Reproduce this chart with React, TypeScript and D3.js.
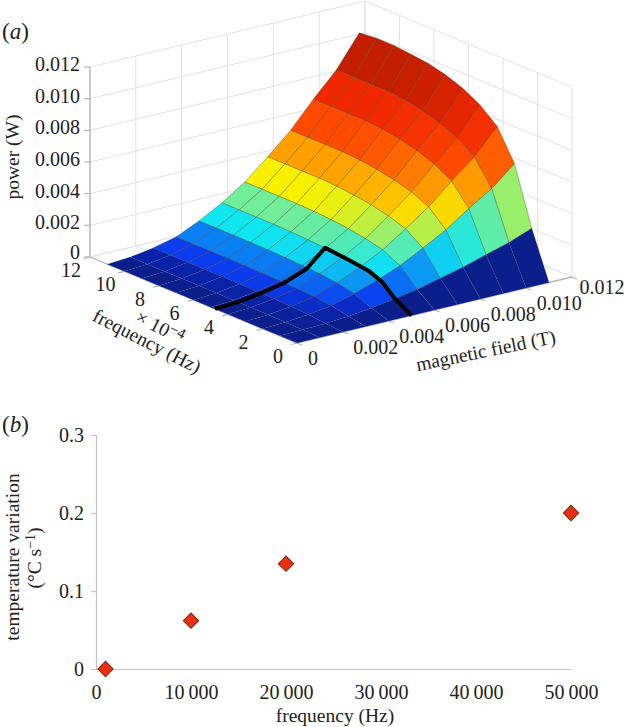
import React, { useEffect, useRef } from "react";
import * as d3 from "d3";

// panel (a) surface: rows are field values, columns are frequency values
const surfaceFreq = [0, 1e-4, 2e-4, 3e-4, 4e-4, 5e-4, 6e-4, 7e-4, 8e-4, 9e-4, 10e-4, 11e-4];
const surfaceField = [0, 0.001, 0.002, 0.003, 0.004, 0.005, 0.006, 0.007, 0.008, 0.009, 0.01, 0.011];
const surfacePower = [
    [0, 0, 0, 0, 0, 0, 0, 0, 0, 0, 0, 0],
    [0, 0.00003, 0.00006, 0.00008, 0.00009, 0.00009, 0.0001, 0.0001, 0.0001, 0.0001, 0.0001, 0.0001],
    [0, 0.00009, 0.0002, 0.00026, 0.00029, 0.00031, 0.00032, 0.00033, 0.00033, 0.00033, 0.00033, 0.00033],
    [0, 0.00019, 0.00041, 0.00053, 0.00059, 0.00063, 0.00065, 0.00067, 0.00068, 0.00068, 0.00068, 0.00068],
    [0, 0.00037, 0.00082, 0.00105, 0.00117, 0.00124, 0.00129, 0.00132, 0.00134, 0.00134, 0.00134, 0.00134],
    [0, 0.00059, 0.00131, 0.00168, 0.00186, 0.00198, 0.00206, 0.00211, 0.00214, 0.00214, 0.00214, 0.00214],
    [0, 0.00085, 0.00189, 0.00244, 0.0027, 0.00287, 0.00299, 0.00306, 0.0031, 0.0031, 0.0031, 0.0031],
    [0, 0.0012, 0.00265, 0.00342, 0.00378, 0.00403, 0.00419, 0.0043, 0.00435, 0.00435, 0.00435, 0.00435],
    [0, 0.00156, 0.00346, 0.00446, 0.00494, 0.00526, 0.00547, 0.00561, 0.00568, 0.00568, 0.00568, 0.00568],
    [0, 0.002, 0.00445, 0.00574, 0.00635, 0.00676, 0.00703, 0.00721, 0.0073, 0.0073, 0.0073, 0.0073],
    [0, 0.00242, 0.00537, 0.00692, 0.00766, 0.00815, 0.00847, 0.00869, 0.0088, 0.0088, 0.0088, 0.0088],
    [0, 0.00297, 0.0066, 0.00849, 0.0094, 0.01, 0.0104, 0.01067, 0.0108, 0.0109, 0.0109, 0.0108],
];

// black curve on the surface
const curveFreq = [4.75e-4, 4.75e-4, 4.75e-4, 4.75e-4, 4.75e-4, 4.75e-4, 3.5e-4, 2.5e-4, 1.7e-4, 1e-4, 0];
const curveField = [0, 0.001, 0.002, 0.003, 0.004, 0.0048, 0.0049, 0.005, 0.005, 0.005, 0.005];
const curvePower = [0, 0.00009, 0.0003, 0.0006, 0.00115, 0.0022, 0.00195, 0.0017, 0.00135, 0.00065, 0];

const freqTicks = [0, 2e-4, 4e-4, 6e-4, 8e-4, 10e-4, 12e-4];
const freqTickLabels = ["0", "2", "4", "6", "8", "10", "12"];
const fieldTicks = [0, 0.002, 0.004, 0.006, 0.008, 0.01, 0.012];
const fieldTickLabels = ["0", "0.002", "0.004", "0.006", "0.008", "0.010", "0.012"];
const powerTicks = [0, 0.002, 0.004, 0.006, 0.008, 0.01, 0.012];
const powerTickLabels = ["0", "0.002", "0.004", "0.006", "0.008", "0.010", "0.012"];

const colorStops = [0, 0.0001, 0.00033, 0.00068, 0.00134, 0.00214, 0.0031, 0.00435, 0.00568, 0.0073, 0.0088];
const colorValues = ["#0a1f8c", "#0a22a8", "#0a3cf0", "#0a80f5", "#10e6f0", "#70ee98", "#f8f000", "#ffa000", "#ff4a00", "#f02800", "#c41e00"];

// panel (b)
const pointFreq = [1000, 10000, 20000, 50000];
const pointTemp = [0, 0.062, 0.135, 0.2];
const xTicksB = [0, 10000, 20000, 30000, 40000, 50000];
const xTickLabelsB = ["0", "10\u2009000", "20\u2009000", "30\u2009000", "40\u2009000", "50\u2009000"];
const yTicksB = [0, 0.1, 0.2, 0.3];
const yTickLabelsB = ["0", "0.1", "0.2", "0.3"];

const FONT = "'Liberation Serif', serif";
const GRID = "#e2e2e2";
const AXIS = "#b4b4b4";
const TEXT = "#222";
const TICK_SIZE = 20;
const TITLE_SIZE = 19.5;

const App: React.FC = () => {
    const svgRef = useRef<SVGSVGElement | null>(null);

    useEffect(() => {
        const svg = d3.select(svgRef.current);
        svg.selectAll("*").remove();
        svg.attr("font-family", FONT).attr("fill", TEXT);

        // oblique projection of panel (a), box corners
        const front = { x: 297, y: 343 };
        const fScale = d3.scaleLinear().domain([0, 12e-4]);
        const freqDx = fScale.copy().range([0, -207]);
        const freqDy = fScale.copy().range([0, -86]);
        const fieldDx = d3.scaleLinear().domain([0, 0.012]).range([0, 275]);
        const fieldDy = d3.scaleLinear().domain([0, 0.012]).range([0, -66]);
        const powerDy = d3.scaleLinear().domain([0, 0.012]).range([0, -190]);
        const project = (f: number, m: number, p: number): [number, number] => [
            front.x + freqDx(f) + fieldDx(m),
            front.y + freqDy(f) + fieldDy(m) + powerDy(p),
        ];
        const color = d3.scaleLinear<string>().domain(colorStops).range(colorValues).clamp(true);
        const line3 = d3.line<[number, number, number]>()
            .x((d) => project(d[0], d[1], d[2])[0])
            .y((d) => project(d[0], d[1], d[2])[1]);

        const a = svg.append("g");
        const seg = (pts: [number, number, number][], stroke: string, w = 1) =>
            a.append("path").attr("d", line3(pts)).attr("fill", "none").attr("stroke", stroke).attr("stroke-width", w);

        // walls and floor grid
        const fMax = 12e-4;
        const mMax = 0.012;
        const pMax = 0.012;
        powerTicks.forEach((p) => {
            seg([[fMax, 0, p], [fMax, mMax, p], [0, mMax, p]], GRID);
        });
        fieldTicks.forEach((m) => {
            seg([[fMax, m, 0], [fMax, m, pMax]], GRID);
            seg([[0, m, 0], [fMax, m, 0]], GRID);
        });
        freqTicks.forEach((f) => {
            seg([[f, mMax, 0], [f, mMax, pMax]], GRID);
            seg([[f, 0, 0], [f, mMax, 0]], GRID);
        });

        // box axes
        seg([[fMax, 0, 0], [fMax, 0, pMax]], AXIS, 1.3);
        seg([[fMax, 0, 0], [0, 0, 0], [0, mMax, 0]], AXIS, 1.3);

        // tick marks and labels
        powerTicks.forEach((p, i) => {
            const [x, y] = project(fMax, 0, p);
            a.append("line").attr("x1", x - 6).attr("x2", x).attr("y1", y).attr("y2", y).attr("stroke", AXIS).attr("stroke-width", 1.2);
            a.append("text").attr("x", x - 10).attr("y", p === 0 ? y + 2 : y + 4).attr("text-anchor", "end").attr("font-size", TICK_SIZE).text(powerTickLabels[i]);
        });
        freqTicks.forEach((f, i) => {
            const [x, y] = project(f, 0, 0);
            a.append("line").attr("x1", x).attr("y1", y).attr("x2", x - 6).attr("y2", y + 1.5).attr("stroke", AXIS).attr("stroke-width", 1.2);
            a.append("text").attr("x", x - 19).attr("y", y + 20).attr("text-anchor", "middle").attr("font-size", TICK_SIZE).text(freqTickLabels[i]);
        });
        fieldTicks.forEach((m, i) => {
            const [x, y] = project(0, m, 0);
            a.append("line").attr("x1", x).attr("y1", y).attr("x2", x + 5).attr("y2", y + 2).attr("stroke", AXIS).attr("stroke-width", 1.2);
            const dx = m === 0 ? 16 : i === fieldTicks.length - 1 ? 30 : 33;
            const dy = i === fieldTicks.length - 1 ? 17 : 22;
            a.append("text").attr("x", x + dx).attr("y", y + dy).attr("text-anchor", "middle").attr("font-size", TICK_SIZE).text(fieldTickLabels[i]);
        });

        // surface, painted from the far corner to the near corner
        const cells = a.append("g");
        for (let i = surfaceFreq.length - 2; i >= 0; i--) {
            for (let j = surfaceField.length - 2; j >= 0; j--) {
                const corners: [number, number, number][] = [
                    [surfaceFreq[i], surfaceField[j], surfacePower[j][i]],
                    [surfaceFreq[i + 1], surfaceField[j], surfacePower[j][i + 1]],
                    [surfaceFreq[i + 1], surfaceField[j + 1], surfacePower[j + 1][i + 1]],
                    [surfaceFreq[i], surfaceField[j + 1], surfacePower[j + 1][i]],
                ];
                cells.append("path")
                    .attr("d", line3(corners) + "Z")
                    .attr("fill", color(surfacePower[j][i]))
                    .attr("stroke", "#3a3a20")
                    .attr("stroke-opacity", surfacePower[j][i] < 0.0002 ? 0.08 : 0.4)
                    .attr("stroke-width", 0.8)
                    .attr("stroke-linejoin", "round");
            }
        }

        // black curve
        seg(curveFreq.map((f, i) => [f, curveField[i], curvePower[i]] as [number, number, number]), "#050505", 4)
            .attr("stroke-linejoin", "round");

        // axis titles of (a)
        a.append("text").attr("transform", "translate(19,157) rotate(-90)").attr("text-anchor", "middle").attr("font-size", TITLE_SIZE).text("power (W)");
        a.append("text").attr("transform", "translate(144,347) rotate(27)").attr("text-anchor", "middle").attr("font-size", TITLE_SIZE).text("frequency (Hz)");
        const exp = a.append("text").attr("transform", "translate(157,333) rotate(27)").attr("text-anchor", "middle").attr("font-size", TITLE_SIZE);
        exp.append("tspan").text("\u00d7 10");
        exp.append("tspan").attr("dy", -6).attr("font-size", 15).text("\u22124");
        a.append("text").attr("transform", "translate(487,357) rotate(-11.5)").attr("text-anchor", "middle").attr("font-size", TITLE_SIZE).text("magnetic field (T)");

        // panel letters
        const letter = (y: number, ch: string) => {
            const t = svg.append("text").attr("x", 2).attr("y", y).attr("font-size", 23);
            t.append("tspan").text("(");
            t.append("tspan").attr("font-style", "italic").text(ch);
            t.append("tspan").text(")");
        };
        letter(39, "a");
        letter(432, "b");

        // panel (b)
        const x = d3.scaleLinear().domain([0, 50000]).range([96, 571]);
        const y = d3.scaleLinear().domain([0, 0.3]).range([669, 435]);
        const xAxis = svg.append("g").attr("transform", "translate(0,669)")
            .call(d3.axisBottom(x).tickValues(xTicksB).tickSize(0).tickPadding(16)
                .tickFormat((_, i) => xTickLabelsB[i]));
        const yAxis = svg.append("g").attr("transform", "translate(96,0)")
            .call(d3.axisLeft(y).tickValues(yTicksB).tickSize(5).tickPadding(7)
                .tickFormat((_, i) => yTickLabelsB[i]));
        [xAxis, yAxis].forEach((g) => {
            g.attr("font-family", FONT).attr("font-size", TICK_SIZE);
            g.selectAll("path, line").attr("stroke", "#c4c4c4").attr("stroke-width", 1.2);
            g.selectAll("text").attr("fill", TEXT);
        });

        const diamond = d3.symbol().type(d3.symbolSquare).size(118);
        svg.append("g").selectAll("path").data(pointFreq).enter().append("path")
            .attr("d", diamond)
            .attr("transform", (d, i) => `translate(${x(d)},${y(pointTemp[i])}) rotate(45)`)
            .attr("fill", "#ec2f0c")
            .attr("stroke", "#7a2a1a")
            .attr("stroke-width", 1);

        svg.append("text").attr("x", 335).attr("y", 722).attr("text-anchor", "middle").attr("font-size", TITLE_SIZE).text("frequency (Hz)");
        svg.append("text").attr("transform", "translate(19,557) rotate(-90)").attr("text-anchor", "middle").attr("font-size", TITLE_SIZE).text("temperature variation");
        const unit = svg.append("text").attr("transform", "translate(41,558) rotate(-90)").attr("text-anchor", "middle").attr("font-size", TITLE_SIZE);
        unit.append("tspan").text("(\u00b0C s");
        unit.append("tspan").attr("dy", -6).attr("font-size", 14).text("\u22121");
        unit.append("tspan").attr("dy", 6).text(")");
    }, []);

    return <svg ref={svgRef} width={624} height={727} style={{ position: "absolute", left: 0, top: 0 }} />;
};

export default App;
